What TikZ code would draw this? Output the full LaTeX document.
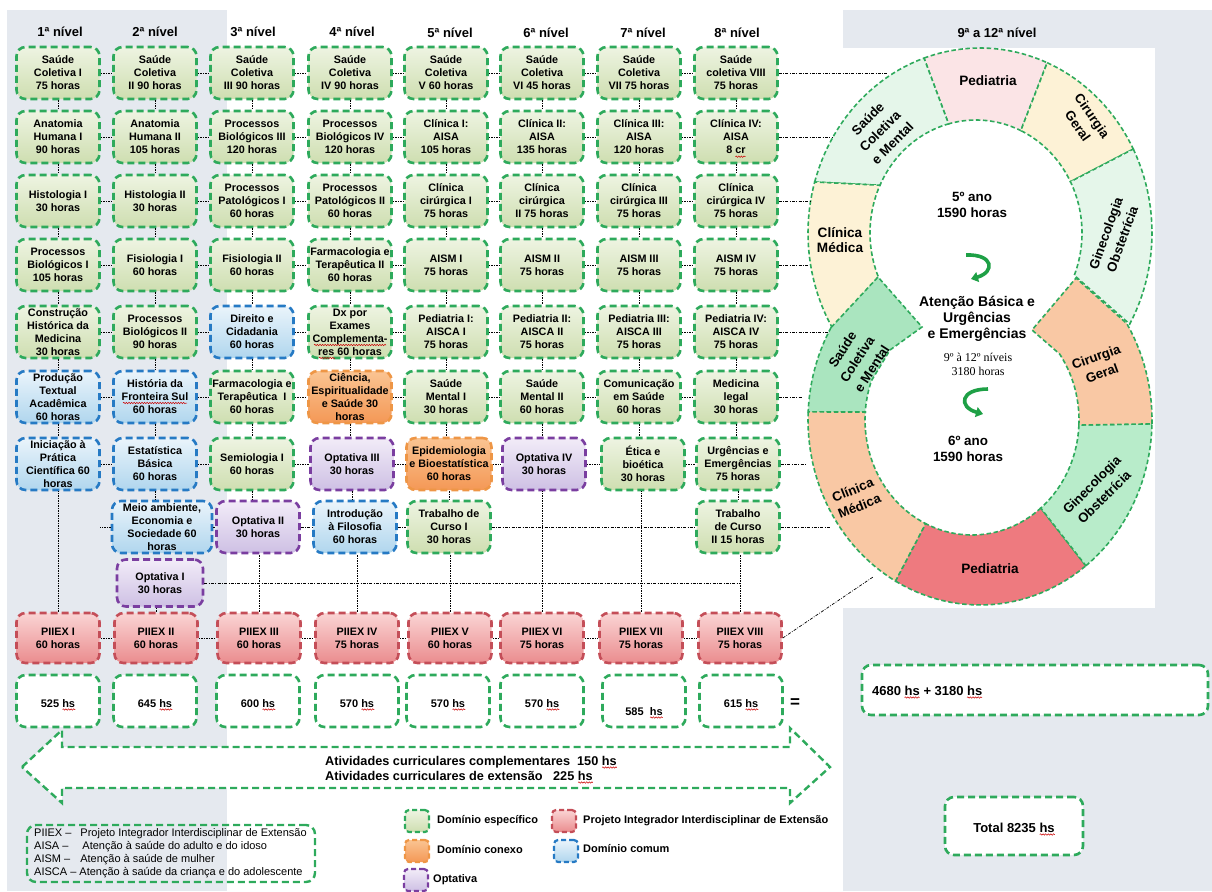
\documentclass[tikz,border=0pt]{standalone}
\usepackage{fontspec}
\setmainfont{Liberation Sans}
\newfontfamily\lserif{Liberation Serif}
\usetikzlibrary{arrows.meta,calc,decorations.pathmorphing}
\definecolor{bg}{RGB}{229,233,239}
\definecolor{gB}{RGB}{46,170,92}
\definecolor{gT}{RGB}{238,244,226}
\definecolor{gD}{RGB}{206,222,176}
\definecolor{bB}{RGB}{38,122,196}
\definecolor{bT}{RGB}{234,244,251}
\definecolor{bD}{RGB}{176,214,238}
\definecolor{oB}{RGB}{238,150,70}
\definecolor{oT}{RGB}{250,196,146}
\definecolor{oD}{RGB}{244,152,86}
\definecolor{pB}{RGB}{122,62,160}
\definecolor{pT}{RGB}{242,236,248}
\definecolor{pD}{RGB}{206,192,228}
\definecolor{rB}{RGB}{196,78,88}
\definecolor{rT}{RGB}{250,212,212}
\definecolor{rD}{RGB}{234,140,142}
\definecolor{uLG}{RGB}{229,246,234}
\definecolor{uPk}{RGB}{251,228,230}
\definecolor{uY}{RGB}{253,242,214}
\definecolor{lG}{RGB}{170,229,191}
\definecolor{lGb}{RGB}{184,236,202}
\definecolor{lO}{RGB}{249,200,164}
\definecolor{lR}{RGB}{238,122,127}
\definecolor{gA}{RGB}{30,160,70}
\newcommand\bxf{\fontsize{10.8}{13}\selectfont\bfseries}
\newcommand\hdf{\fontsize{13}{15}\selectfont\bfseries}
\newcommand\rgf{\fontsize{13.6}{15.8}\selectfont\bfseries}
\newcommand\rrf{\fontsize{13.2}{17.5}\selectfont\bfseries}
\newcommand\ctf{\fontsize{13.4}{15.5}\selectfont\bfseries}
\newcommand\cbf{\fontsize{14}{16}\selectfont\bfseries}
\newcommand\srf{\lserif\fontsize{12}{14}\selectfont}
\newcommand\hsf{\fontsize{11}{13}\selectfont\bfseries}
\newcommand\lgf{\fontsize{11}{13}\selectfont}
\newcommand\kyf{\fontsize{11}{13}\selectfont\bfseries}
\newcommand\arf{\fontsize{12.7}{15}\selectfont\bfseries}
\newcommand\tof{\fontsize{13}{15}\selectfont\bfseries}
\begin{document}
\begin{tikzpicture}[x=1pt,y=-1pt,
  cbox/.style={rounded corners=9pt, line width=2.6pt, dash pattern=on 7pt off 4pt, minimum width=83pt, minimum height=52pt, inner sep=0pt, align=center, font=\bxf},
  gbox/.style={cbox, draw=gB, top color=gT, bottom color=gD},
  bbox/.style={cbox, draw=bB, top color=bT, bottom color=bD},
  obox/.style={cbox, draw=oB, top color=oT, bottom color=oD},
  pbox/.style={cbox, draw=pB, top color=pT, bottom color=pD},
  rbox/.style={cbox, draw=rB, top color=rT, bottom color=rD, minimum height=50pt},
  wbox/.style={cbox, draw=gB, fill=white},
  kbox/.style={minimum width=24pt, minimum height=22pt, rounded corners=4pt, line width=2.2pt, dash pattern=on 5pt off 3pt},
  conn/.style={draw=black, line width=0.7pt, dash pattern=on 1.6pt off 0.9pt},
  lconn/.style={draw=black, line width=0.7pt, dash pattern=on 3pt off 1.4pt on 0.8pt off 1.4pt},
  ring/.style={draw=gB, line width=1.6pt, dash pattern=on 4.5pt off 2.6pt},
  sq/.style={draw=red!80!black, line width=0.5pt, decorate, decoration={snake, amplitude=0.7pt, segment length=2.6pt}},
  hd/.style={font=\hdf, inner sep=0pt},
  rl/.style={font=\rgf, align=center, inner sep=0pt},
  rr/.style={font=\rrf, align=center, inner sep=0pt},
]
\useasboundingbox (0,0) rectangle (1212,891);
% backgrounds
\fill[bg] (7,10) rectangle (227,891);
\fill[bg] (843,10) rectangle (1212,891);
\fill[white] (843,48) rectangle (1155,608);

% ---------- ring: upper (5o ano)
\filldraw[ring, fill=uPk] plot[domain=-109:-67,samples=20] ({980+172*cos(\x)},{233+185*sin(\x)}) -- plot[domain=-65:-105,samples=20] ({976+106*cos(\x)},{233+113*sin(\x)}) -- cycle;
\filldraw[ring, fill=uY] plot[domain=-67:-27,samples=20] ({980+172*cos(\x)},{233+185*sin(\x)}) -- plot[domain=-27:-65,samples=20] ({976+106*cos(\x)},{233+113*sin(\x)}) -- cycle;
\filldraw[ring, fill=uLG] plot[domain=-27:29.5,samples=25] ({980+172*cos(\x)},{233+185*sin(\x)}) -- plot[domain=22:-27,samples=25] ({976+106*cos(\x)},{233+113*sin(\x)}) -- cycle;
\filldraw[ring, fill=uLG] plot[domain=-164:-109,samples=25] ({980+172*cos(\x)},{233+185*sin(\x)}) -- plot[domain=-105:-155,samples=25] ({976+106*cos(\x)},{233+113*sin(\x)}) -- cycle;
\filldraw[ring, fill=uY] plot[domain=149:196,samples=25] ({980+172*cos(\x)},{233+185*sin(\x)}) -- plot[domain=205:157,samples=25] ({976+106*cos(\x)},{233+113*sin(\x)}) -- cycle;
% ---------- ring: lower (6o ano)
\filldraw[ring, fill=lG] plot[domain=210:182.5,samples=15] ({980+172*cos(\x)},{420+185*sin(\x)}) -- plot[domain=184:200,samples=10] ({972+107*cos(\x)},{420+115*sin(\x)}) -- (890,350) -- (922,327) -- (878,277) -- cycle;
\filldraw[ring, fill=lO] plot[domain=182.5:119.4,samples=25] ({980+172*cos(\x)},{420+185*sin(\x)}) -- plot[domain=115.6:184,samples=25] ({972+107*cos(\x)},{420+115*sin(\x)}) -- cycle;
\filldraw[ring, fill=lR] plot[domain=119.4:52,samples=25] ({980+172*cos(\x)},{420+185*sin(\x)}) -- plot[domain=50:115.6,samples=25] ({972+107*cos(\x)},{420+115*sin(\x)}) -- cycle;
\filldraw[ring, fill=lGb] plot[domain=52:1.2,samples=25] ({980+172*cos(\x)},{420+185*sin(\x)}) -- plot[domain=2.5:50,samples=25] ({972+107*cos(\x)},{420+115*sin(\x)}) -- cycle;
\filldraw[ring, fill=lO] plot[domain=1.2:-31.4,samples=15] ({980+172*cos(\x)},{420+185*sin(\x)}) -- (1076,278) -- (1032,330) -- plot[domain=-35:2.5,samples=15] ({972+107*cos(\x)},{420+115*sin(\x)}) -- cycle;

% ring labels
\node[rl] (rPedU) at (988,81) {Pediatria};
\node[rr, rotate=-55] (rCirU) at (1085,121) {Cirurgia\\Geral};
\node[rr, rotate=45] (rSCU) at (880,131) {Saúde\\Coletiva\\e Mental};
\node[rl] (rCMU) at (840,240) {Clínica\\Médica};
\node[rr, rotate=70] (rGinU) at (1114,236) {Ginecologia\\Obstetrícia};
\node[rr, rotate=57] (rSCL) at (857,359) {Saúde\\Coletiva\\e Mental};
\node[rr, rotate=20] (rCirL) at (1099,365) {Cirurgia\\Geral};
\node[rr, rotate=22] (rCML) at (856,498) {Clínica\\Médica};
\node[rr, rotate=45] (rGinL) at (1098,491) {Ginecologia\\Obstetrícia};
\node[rl] (rPedL) at (990,569) {Pediatria};

% centre
\node[font=\ctf, align=center, inner sep=0pt] (y5) at (972,205) {5º ano\\1590 horas};
\node[font=\cbf, align=center, inner sep=0pt] (ab) at (977,319) {Atenção Básica e\\Urgências\\e Emergências};
\node[font=\srf, align=center, inner sep=0pt] (niv) at (978,364) {9º à 12º níveis\\3180 horas};
\node[font=\ctf, align=center, inner sep=0pt] (y6) at (968,449) {6º ano\\1590 horas};
\draw[gA, line width=3.6pt, -{Triangle[length=7pt,width=10pt]}] (966,255) .. controls (994,254) and (995,272) .. (971,279);
\draw[gA, line width=3.6pt, -{Triangle[length=7pt,width=10pt]}] (988,389) .. controls (960,389) and (958,407) .. (983,414);

% headers
\node[hd] (h1) at (60,32) {1ª nível};
\node[hd] (h2) at (155,32) {2ª nível};
\node[hd] (h3) at (253,32) {3ª nível};
\node[hd] (h4) at (352,32) {4ª nível};
\node[hd] (h5) at (450,33) {5ª nível};
\node[hd] (h6) at (546,33) {6ª nível};
\node[hd] (h7) at (643,33) {7ª nível};
\node[hd] (h8) at (737,33) {8ª nível};
\node[hd] (h9) at (997,33) {9ª a 12ª nível};

% column 1
\node[gbox] (c1r1) at (58,73) {Saúde\\Coletiva I\\75 horas};
\node[gbox] (c1r2) at (58,137) {Anatomia\\Humana I\\90 horas};
\node[gbox] (c1r3) at (58,201) {Histologia I\\30 horas};
\node[gbox] (c1r4) at (58,265) {Processos\\Biológicos I\\105 horas};
\node[gbox] (c1r5) at (58,332) {Construção\\Histórica da\\Medicina\\30 horas};
\node[bbox] (c1r6) at (58,397) {Produção\\Textual\\Acadêmica\\60 horas};
\node[bbox] (c1r7) at (58,464) {Iniciação à\\Prática\\Científica 60\\horas};
% column 2
\node[gbox] (c2r1) at (155,73) {Saúde\\Coletiva\\II 90 horas};
\node[gbox] (c2r2) at (155,137) {Anatomia\\Humana II\\105 horas};
\node[gbox] (c2r3) at (155,201) {Histologia II\\30 horas};
\node[gbox] (c2r4) at (155,265) {Fisiologia I\\60 horas};
\node[gbox] (c2r5) at (155,332) {Processos\\Biológicos II\\90 horas};
\node[bbox] (c2r6) at (155,397) {História da\\Fronteira Sul\\60 horas};
\node[bbox] (c2r7) at (155,464) {Estatística\\Básica\\60 horas};
\node[bbox, minimum width=100pt] (c2r8) at (162,527) {Meio ambiente,\\Economia e\\Sociedade 60\\horas};
\node[pbox, minimum width=86pt, minimum height=47pt] (c2r9) at (160,583) {Optativa I\\30 horas};
% column 3
\node[gbox] (c3r1) at (252,73) {Saúde\\Coletiva\\III 90 horas};
\node[gbox] (c3r2) at (252,137) {Processos\\Biológicos III\\120 horas};
\node[gbox] (c3r3) at (252,201) {Processos\\Patológicos I\\60 horas};
\node[gbox] (c3r4) at (252,265) {Fisiologia II\\60 horas};
\node[bbox] (c3r5) at (252,332) {Direito e\\Cidadania\\60 horas};
\node[gbox] (c3r6) at (252,397) {Farmacologia e\\Terapêutica\ \ I\\60 horas};
\node[gbox] (c3r7) at (252,464) {Semiologia I\\60 horas};
\node[pbox] (c3r8) at (258,527) {Optativa II\\30 horas};
% column 4
\node[gbox] (c4r1) at (350,73) {Saúde\\Coletiva\\IV 90 horas};
\node[gbox] (c4r2) at (350,137) {Processos\\Biológicos IV\\120 horas};
\node[gbox] (c4r3) at (350,201) {Processos\\Patológicos II\\60 horas};
\node[gbox] (c4r4) at (350,265) {Farmacologia e\\Terapêutica II\\60 horas};
\node[gbox] (c4r5) at (350,332) {Dx por\\Exames\\Complementa-\\res 60 horas};
\node[obox] (c4r6) at (350,397) {Ciência,\\Espiritualidade\\e Saúde 30\\horas};
\node[pbox] (c4r7) at (352,464) {Optativa III\\30 horas};
\node[bbox] (c4r8) at (355,527) {Introdução\\à Filosofia\\60 horas};
% column 5
\node[gbox] (c5r1) at (446,73) {Saúde\\Coletiva\\V 60 horas};
\node[gbox] (c5r2) at (446,137) {Clínica I:\\AISA\\105 horas};
\node[gbox] (c5r3) at (446,201) {Clínica\\cirúrgica I\\75 horas};
\node[gbox] (c5r4) at (446,265) {AISM I\\75 horas};
\node[gbox] (c5r5) at (446,332) {Pediatria I:\\AISCA I\\75 horas};
\node[gbox] (c5r6) at (446,397) {Saúde\\Mental I\\30 horas};
\node[obox, minimum width=85pt] (c5r7) at (449,464) {Epidemiologia\\e Bioestatística\\60 horas};
\node[gbox] (c5r8) at (449,527) {Trabalho de\\Curso I\\30 horas};
% column 6
\node[gbox] (c6r1) at (542,73) {Saúde\\Coletiva\\VI 45 horas};
\node[gbox] (c6r2) at (542,137) {Clínica II:\\AISA\\135 horas};
\node[gbox] (c6r3) at (542,201) {Clínica\\cirúrgica\\II 75 horas};
\node[gbox] (c6r4) at (542,265) {AISM II\\75 horas};
\node[gbox] (c6r5) at (542,332) {Pediatria II:\\AISCA II\\75 horas};
\node[gbox] (c6r6) at (542,397) {Saúde\\Mental II\\60 horas};
\node[pbox] (c6r7) at (544,464) {Optativa IV\\30 horas};
% column 7
\node[gbox] (c7r1) at (639,73) {Saúde\\Coletiva\\VII 75 horas};
\node[gbox] (c7r2) at (639,137) {Clínica III:\\AISA\\120 horas};
\node[gbox] (c7r3) at (639,201) {Clínica\\cirúrgica III\\75 horas};
\node[gbox] (c7r4) at (639,265) {AISM III\\75 horas};
\node[gbox] (c7r5) at (639,332) {Pediatria III:\\AISCA III\\75 horas};
\node[gbox] (c7r6) at (639,397) {Comunicação\\em Saúde\\60 horas};
\node[gbox] (c7r7) at (643,464) {Ética e\\bioética\\30 horas};
% column 8
\node[gbox] (c8r1) at (736,73) {Saúde\\coletiva VIII\\75 horas};
\node[gbox] (c8r2) at (736,137) {Clínica IV:\\AISA\\8 cr};
\node[gbox] (c8r3) at (736,201) {Clínica\\cirúrgica IV\\75 horas};
\node[gbox] (c8r4) at (736,265) {AISM IV\\75 horas};
\node[gbox] (c8r5) at (736,332) {Pediatria IV:\\AISCA IV\\75 horas};
\node[gbox] (c8r6) at (736,397) {Medicina\\legal\\30 horas};
\node[gbox] (c8r7) at (738,464) {Urgências e\\Emergências\\75 horas};
\node[gbox] (c8r8) at (738,527) {Trabalho\\de Curso\\II 15 horas};

% PIIEX row
\node[rbox] (p1) at (58,638) {PIIEX I\\60 horas};
\node[rbox] (p2) at (156,638) {PIIEX II\\60 horas};
\node[rbox] (p3) at (259,638) {PIIEX III\\60 horas};
\node[rbox] (p4) at (357,638) {PIIEX IV\\75 horas};
\node[rbox] (p5) at (450,638) {PIIEX V\\60 horas};
\node[rbox] (p6) at (542,638) {PIIEX VI\\75 horas};
\node[rbox] (p7) at (641,638) {PIIEX VII\\75 horas};
\node[rbox] (p8) at (740,638) {PIIEX VIII\\75 horas};

% hours row
\foreach \i/\xx/\yy/\tx in {1/58/707/525,2/155/707/645,3/258/707/600,4/357/707/570,5/448/707/570,6/542/707/570,7/644/715/585\ ,8/741/707/615}{
  \node[wbox] (hb\i) at (\xx,701) {};
  \node[font=\hsf, inner sep=0pt, anchor=base] (ht\i) at (\xx,\yy) {\tx\ hs};
  \draw[sq] ($(ht\i.base east)+(-12.8,2.5)$) -- ++(12.8,0);
}
\node[font=\fontsize{17}{17}\selectfont\bfseries, inner sep=0pt] (eq) at (795,703) {=};

% vertical connectors within columns
\foreach \ci/\n/\lst in {1/6/7,2/7/9,3/7/8,4/7/8,5/7/8,6/6/7,7/6/7,8/7/8}{
  \foreach \ri in {1,...,\n}{
    \pgfmathtruncatemacro{\rj}{\ri+1}
    \draw[conn] (c\ci r\ri.south) -- (c\ci r\ri.south |- c\ci r\rj.north);
  }
  \draw[conn] (p\ci.north) -- (p\ci.north |- c\ci r\lst.south);
}
% horizontal connectors rows 1-7
\foreach \ri in {1,...,7}{
  \foreach \ci in {1,...,7}{
    \pgfmathtruncatemacro{\cj}{\ci+1}
    \draw[conn] (c\ci r\ri.east) -- (c\ci r\ri.east -| c\cj r\ri.west);
  }
}
% row 8 and 9
\coordinate (s8) at (100,527);
\draw[conn] (c2r8.west) -- (s8);
\draw[conn] (c2r8.east) -- (c2r8.east -| c3r8.west);
\draw[lconn] (c3r8.east) -- (c3r8.east -| c4r8.west);
\draw[lconn] (c4r8.east) -- (c4r8.east -| c5r8.west);
\draw[lconn] (c5r8.east) -- (c5r8.east -| c8r8.west);
\coordinate (e9) at (740,583);
\draw[lconn] (c2r9.east) -- (e9);
% PIIEX row connectors
\foreach \ci in {1,...,7}{
  \pgfmathtruncatemacro{\cj}{\ci+1}
  \draw[conn] (p\ci.east) -- (p\ci.east -| p\cj.west);
}
% to the ring
\foreach \ri/\xe/\ye in {1/887/73,2/832/137,3/810/201,4/808/265,5/828/332,6/802/397,7/807/464,8/830/527}{
  \coordinate (e\ri) at (\xe,\ye);
  \draw[lconn] (c8r\ri.east) -- (e\ri);
}
\coordinate (pe) at (873,577);
\draw[lconn] (p8.east) -- (pe);

% spell-check squiggles in boxes
\draw[sq] ($(c8r2)+(-0.6,19.7)$) -- ++(10.2,0);
\draw[sq] ($(c2r6)+(-32,6)$) -- ++(64,0);
\draw[sq] ($(c4r5)+(-36,13)$) -- ++(72,0);
\draw[sq] ($(c4r5)+(-31,26)$) -- ++(16,0);

% big double arrow
\filldraw[draw=gB, fill=white, line width=2.4pt, dash pattern=on 7pt off 4pt] (22,767) -- (62,730) -- (62,747) -- (790,747) -- (790,728) -- (830,767) -- (790,803) -- (790,788) -- (62,788) -- (62,803) -- cycle;
\node[font=\arf, anchor=base west, inner sep=0pt] (at1) at (325,765) {Atividades curriculares complementares\ \ 150 hs};
\node[font=\arf, anchor=base west, inner sep=0pt] (at2) at (325,780) {Atividades curriculares de extensão\ \ \ 225 hs};
\draw[sq] ($(at1.base east)+(-14.8,2.5)$) -- ++(14.8,0);
\draw[sq] ($(at2.base east)+(-14.8,2.5)$) -- ++(14.8,0);

% abbreviation legend
\node[draw=gB, line width=2.4pt, dash pattern=on 7pt off 4pt, rounded corners=9pt, minimum width=288pt, minimum height=57pt, inner sep=0pt] (lg) at (171,853.5) {};
\node[font=\lgf, align=left, anchor=north west, inner sep=0pt] (lgt) at (34,828) {PIIEX –\hspace{9pt}Projeto Integrador Interdisciplinar de Extensão\\AISA –\hspace{14pt}Atenção à saúde do adulto e do idoso\\AISM –\hspace{10pt}Atenção à saúde de mulher\\AISCA – Atenção à saúde da criança e do adolescente};

% colour legend
\node[kbox, draw=gB, top color=gT, bottom color=gD] (kg) at (417,821) {};
\node[kbox, draw=oB, top color=oT, bottom color=oD] (ko) at (417,851) {};
\node[kbox, draw=pB, top color=pT, bottom color=pD] (kp) at (416,880) {};
\node[kbox, draw=rB, top color=rT, bottom color=rD] (kr) at (564,821) {};
\node[kbox, draw=bB, top color=bT, bottom color=bD] (kb) at (566,851) {};
\node[font=\kyf, anchor=west, inner sep=0pt] (kgt) at (437,821) {Domínio específico};
\node[font=\kyf, anchor=west, inner sep=0pt] (kot) at (437,850) {Domínio conexo};
\node[font=\kyf, anchor=west, inner sep=0pt] (kpt) at (433,880) {Optativa};
\node[font=\kyf, anchor=west, inner sep=0pt] (krt) at (583,821) {Projeto Integrador Interdisciplinar de Extensão};
\node[font=\kyf, anchor=west, inner sep=0pt] (kbt) at (583,849) {Domínio comum};

% totals
\node[wbox, minimum width=346pt, minimum height=50pt] (tb1) at (1035,690) {};
\node[font=\tof, anchor=base west, inner sep=0pt] (tt1) at (872,695) {4680 hs + 3180 hs};
\draw[sq] ($(tt1.base west)+(32.5,2.5)$) -- ++(15.2,0);
\draw[sq] ($(tt1.base west)+(95,2.5)$) -- ++(15.2,0);
\node[wbox, minimum width=138pt, minimum height=58pt] (tb2) at (1014,826) {};
\node[font=\tof, anchor=base, inner sep=0pt] (tt2) at (1014,832) {Total 8235 hs};
\draw[sq] ($(tt2.base east)+(-15.2,2.5)$) -- ++(15.2,0);
\end{tikzpicture}
\end{document}
